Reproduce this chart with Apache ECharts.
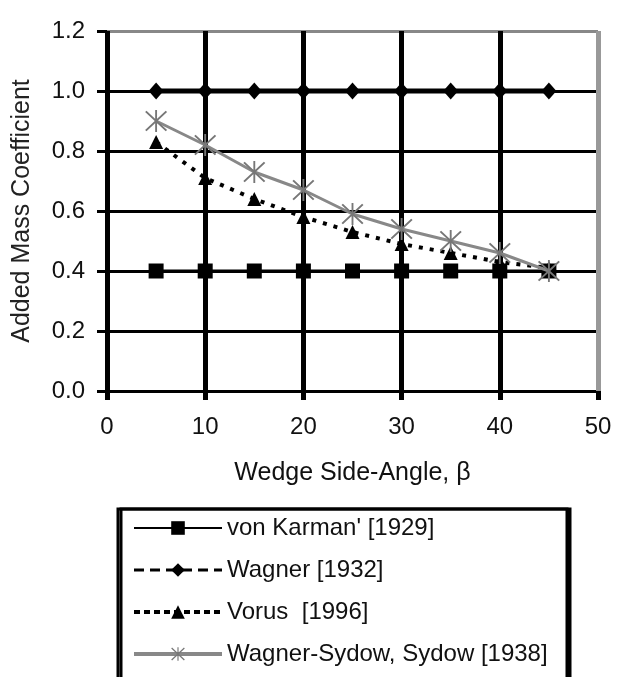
<!DOCTYPE html>
<html lang="en">
<head>
	<meta charset="UTF-8">
	<title>Added Mass Coefficient</title>
	<script src="https://cdn.jsdelivr.net/npm/echarts@6/dist/echarts.min.js"></script>
	<style type="text/css">
		html, body { margin: 0; padding: 0; background: #fff; }
		#main { width: 617px; height: 677px; }
	</style>
</head>
<body>
	<div id="main"></div>
	<script type="text/javascript">
		// wedge side-angle (deg)
		var angles = [5, 10, 15, 20, 25, 30, 35, 40, 45];
		var vonKarman = [0.4, 0.4, 0.4, 0.4, 0.4, 0.4, 0.4, 0.4, 0.4];
		var wagner = [1.0, 1.0, 1.0, 1.0, 1.0, 1.0, 1.0, 1.0, 1.0];
		var vorus = [0.83, 0.71, 0.64, 0.58, 0.53, 0.49, 0.46, 0.43, 0.41];
		var sydow = [0.90, 0.82, 0.73, 0.67, 0.59, 0.54, 0.50, 0.46, 0.40];
		var seriesNames = ["von Karman' [1929]", 'Wagner [1932]', 'Vorus  [1996]', 'Wagner-Sydow, Sydow [1938]'];

		var FONT = '"Liberation Sans", Arial, sans-serif';
		// asterisk marker: vertical bar + X
		var STAR = 'path://M46 0L54 0L54 100L46 100Z M3 9L9 3L97 91L91 97Z M91 3L97 9L9 97L3 91Z';

		function pairs(ys) {
			var out = [];
			for (var i = 0; i < angles.length; i++) out.push([angles[i], ys[i]]);
			return out;
		}

		var chart = echarts.init(document.getElementById('main'));

		var option = {
			animation: false,
			backgroundColor: '#fff',
			grid: { left: 107, right: 19, top: 31, bottom: 286, containLabel: false },
			legend: {
				orient: 'vertical',
				left: 118,
				top: 509,
				height: 240,
				padding: [4, 7, 40, 14],
				itemWidth: 88,
				itemHeight: 17,
				itemGap: 12,
				borderColor: '#000',
				borderWidth: 3,
				backgroundColor: '#fff',
				shadowColor: '#000',
				shadowOffsetX: 3,
				shadowOffsetY: 0,
				shadowBlur: 0,
				selectedMode: false,
				textStyle: { fontFamily: FONT, fontSize: 24, color: '#111', lineHeight: 30, width: 333 },
				data: [
					{ name: seriesNames[0] },
					{ name: seriesNames[1], lineStyle: { type: [10, 6], width: 3 } },
					{ name: seriesNames[2], lineStyle: { type: [6, 4], width: 4 } },
					{ name: seriesNames[3], lineStyle: { width: 4 } }
				]
			},
			xAxis: {
				type: 'value',
				min: 0,
				max: 50,
				interval: 10,
				name: 'Wedge Side-Angle, \u03b2',
				nameLocation: 'middle',
				nameGap: 70,
				nameTextStyle: { fontFamily: FONT, fontSize: 25, color: '#111' },
				axisLine: { show: false },
				axisTick: { show: true, length: 9, lineStyle: { color: '#000', width: 5 } },
				axisLabel: { margin: 24, fontFamily: FONT, fontSize: 24, color: '#111' },
				splitLine: { show: true, lineStyle: { color: ['#000', '#000', '#000', '#000', '#000', '#999'], width: 5 } }
			},
			yAxis: {
				type: 'value',
				min: 0,
				max: 1.2,
				interval: 0.2,
				name: 'Added Mass Coefficient',
				nameLocation: 'middle',
				nameGap: 72,
				nameTextStyle: { fontFamily: FONT, fontSize: 25, color: '#222' },
				axisLine: { show: false },
				axisTick: { show: true, length: 10, lineStyle: { color: '#000', width: 3 } },
				axisLabel: {
					margin: 22,
					fontFamily: FONT,
					fontSize: 24,
					color: '#111',
					formatter: function (v) { return v.toFixed(1); }
				},
				splitLine: { show: true, lineStyle: { color: ['#000', '#000', '#000', '#000', '#000', '#000', '#888'], width: 3 } }
			},
			series: [
				{
					name: seriesNames[0],
					type: 'line',
					data: pairs(vonKarman),
					symbol: 'rect',
					symbolSize: 15,
					itemStyle: { color: '#000' },
					lineStyle: { color: '#000', width: 3 },
					z: 3
				},
				{
					name: seriesNames[1],
					type: 'line',
					data: pairs(wagner),
					symbol: 'diamond',
					symbolSize: [15, 17],
					itemStyle: { color: '#000' },
					lineStyle: { color: '#000', width: 5 },
					z: 3
				},
				{
					name: seriesNames[2],
					type: 'line',
					data: pairs(vorus),
					symbol: 'triangle',
					symbolSize: 14,
					itemStyle: { color: '#000' },
					lineStyle: { color: '#000', width: 4, type: [4, 7] },
					z: 4
				},
				{
					name: seriesNames[3],
					type: 'line',
					data: pairs(sydow),
					symbol: STAR,
					symbolSize: 22,
					itemStyle: { color: '#777' },
					lineStyle: { color: '#888', width: 3 },
					z: 5
				}
			]
		};

		chart.setOption(option);
	</script>
</body>
</html>
